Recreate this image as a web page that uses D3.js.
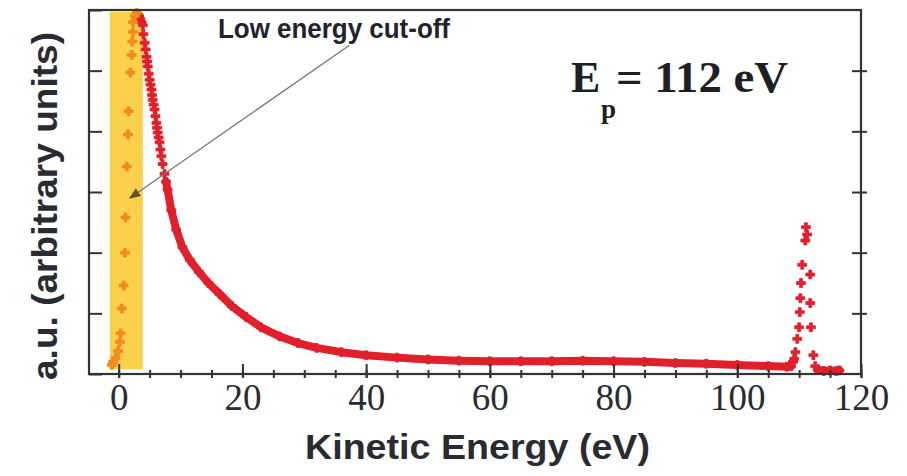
<!DOCTYPE html>
<html>
<head>
<meta charset="utf-8">
<script src="https://cdn.jsdelivr.net/npm/d3@7"></script>
<style>
  html, body { margin: 0; padding: 0; background: #fff; }
  svg { display: block; }
</style>
</head>
<body>
<svg id="chart" width="907" height="476"></svg>
<script>
// values
const redE = [3.1, 3.3, 3.5, 3.7, 3.9, 4.0, 4.2, 4.35, 4.5, 4.6, 4.7, 4.85, 5.0, 5.15, 5.3, 5.4, 5.5, 5.65, 5.8, 5.95, 6.1, 6.2, 6.3, 6.45, 6.6, 6.75, 6.9, 7.1, 7.4, 7.65, 7.9, 8.5, 9.3, 10.3, 11.5, 13, 14.5, 16.3, 18.3, 20.6, 23, 26, 29, 32, 36, 40, 45, 50, 55, 60, 65, 70, 75, 80, 85, 90, 95, 100, 105, 108, 108.7,
  109.0, 109.2, 109.4, 109.7, 110.0, 110.1, 110.2, 110.3, 110.5, 111.0, 111.1, 111.3, 111.8, 111.8, 111.9, 112.3, 112.6,
  113, 114, 115, 116, 116.5];
const redY = [5.92, 5.9, 5.85, 5.8, 5.75, 5.6, 5.46, 5.35, 5.23, 5.15, 5.07, 4.95, 4.85, 4.77, 4.69, 4.6, 4.52, 4.44, 4.36, 4.25, 4.14, 4.06, 3.98, 3.9, 3.82, 3.7, 3.59, 3.46, 3.30, 3.17, 3.04, 2.70, 2.38, 2.09, 1.88, 1.68, 1.50, 1.32, 1.12, 0.94, 0.77, 0.62, 0.51, 0.43, 0.36, 0.31, 0.27, 0.24, 0.22, 0.21, 0.21, 0.21, 0.22, 0.21, 0.20, 0.18, 0.17, 0.15, 0.13, 0.12, 0.13,
  0.20, 0.25, 0.36, 0.58, 0.77, 1.02, 1.25, 1.50, 1.80, 2.20, 2.42, 2.30, 1.64, 1.17, 0.77, 0.31, 0.13,
  0.07, 0.05, 0.06, 0.05, 0.06];

const orangeE = [-1.1, -0.9, -0.5, -0.1, 0.2, 0.3, 0.5, 0.8, 1.0, 1.1, 1.3, 1.5, 1.6, 1.9, 2.1, 2.2, 2.3, 2.3, 2.6, 2.9];
const orangeY = [0.15, 0.20, 0.26, 0.38, 0.53, 0.67, 1.08, 1.46, 2.00, 2.58, 3.42, 3.95, 4.33, 4.97, 5.26, 5.48, 5.64, 5.80, 5.90, 5.95];

const cutoffBand = [-1.45, 3.9];        // shaded low-energy window (eV)
const xMajor = [0, 20, 40, 60, 80, 100, 120];
const xMinor = d3.range(0, 121, 5);
const yTicks = [0, 1, 2, 3, 4, 5, 6];

const svg = d3.select("#chart");
const m = { left: 89, right: 861, top: 10, bottom: 374 };

const x = d3.scaleLinear().domain([-4.8, 120]).range([m.left, m.right]);
const y = d3.scaleLinear().domain([0, 6]).range([m.bottom, m.top]);

const red = redE.map((e, i) => [e, redY[i]]);
const orange = orangeE.map((e, i) => [e, orangeY[i]]);

// yellow cut-off band
svg.append("rect")
  .attr("x", x(cutoffBand[0]))
  .attr("y", y(5.97))
  .attr("width", x(cutoffBand[1]) - x(cutoffBand[0]))
  .attr("height", y(0.08) - y(5.97))
  .attr("fill", "#fbd14b");

// dense part of the spectrum drawn as a thick band
const band = d3.line()
  .defined(d => (d[0] >= 7.6 && d[0] < 109) || d[0] > 112.7)
  .x(d => x(d[0]))
  .y(d => y(d[1]));

svg.append("path")
  .datum(red)
  .attr("fill", "none")
  .attr("stroke", "#e0202b")
  .attr("stroke-width", 8)
  .attr("stroke-linejoin", "round")
  .attr("stroke-linecap", "round")
  .attr("d", band);

const marker = d3.symbol().type(d3.symbolCross).size(44);

svg.append("g").selectAll("path")
  .data(red)
  .join("path")
  .attr("transform", d => `translate(${x(d[0])},${y(d[1])})`)
  .attr("d", marker)
  .attr("fill", "#e0202b")
  .attr("stroke", "#e0202b")
  .attr("stroke-width", 0.8);

svg.append("g").selectAll("path")
  .data(orange)
  .join("path")
  .attr("transform", d => `translate(${x(d[0])},${y(d[1])})`)
  .attr("d", marker)
  .attr("fill", "#f28a1e")
  .attr("stroke", "#f28a1e")
  .attr("stroke-width", 0.8);

// frame
svg.append("rect")
  .attr("x", m.left).attr("y", m.top)
  .attr("width", m.right - m.left).attr("height", m.bottom - m.top)
  .attr("fill", "none")
  .attr("stroke", "#333")
  .attr("stroke-width", 2.2);

// x axis: minor ticks
const xMin = svg.append("g")
  .attr("transform", `translate(0,${m.bottom})`)
  .call(d3.axisBottom(x).tickValues(xMinor).tickSize(0).tickFormat(""));
xMin.select(".domain").remove();
xMin.selectAll(".tick line").attr("y1", -4).attr("y2", 4).attr("stroke", "#333").attr("stroke-width", 2);

// x axis: major ticks + labels
const xMaj = svg.append("g")
  .attr("transform", `translate(0,${m.bottom})`)
  .call(d3.axisBottom(x).tickValues(xMajor).tickSize(0).tickPadding(0));
xMaj.select(".domain").remove();
xMaj.selectAll(".tick line").attr("y1", -10).attr("y2", 4).attr("stroke", "#333").attr("stroke-width", 2);
xMaj.selectAll(".tick text")
  .attr("y", 36)
  .attr("dy", null)
  .attr("fill", "#2a2a33")
  .attr("font-family", "'Liberation Serif', serif")
  .attr("font-size", 37);

// y axis ticks, inward on the left
const yL = svg.append("g")
  .attr("transform", `translate(${m.left},0)`)
  .call(d3.axisLeft(y).tickValues(yTicks).tickSize(0).tickFormat(""));
yL.select(".domain").remove();
yL.selectAll(".tick line").attr("x1", 0).attr("x2", 13).attr("stroke", "#333").attr("stroke-width", 2);

// right side ticks crossing the frame
const yR = svg.append("g")
  .attr("transform", `translate(${m.right},0)`)
  .call(d3.axisRight(y).tickValues(yTicks.slice(1, 6)).tickSize(0).tickFormat(""));
yR.select(".domain").remove();
yR.selectAll(".tick line").attr("x1", -9).attr("x2", 6).attr("stroke", "#333").attr("stroke-width", 2);

// axis titles
svg.append("text")
  .attr("x", 305).attr("y", 459)
  .attr("textLength", 345).attr("lengthAdjust", "spacingAndGlyphs")
  .attr("font-family", "'Liberation Sans', Arial, sans-serif")
  .attr("font-weight", "bold")
  .attr("font-size", 35)
  .attr("fill", "#2a2a33")
  .text("Kinetic Energy (eV)");

svg.append("text")
  .attr("transform", "translate(57,380) rotate(-90)")
  .attr("textLength", 348).attr("lengthAdjust", "spacingAndGlyphs")
  .attr("font-family", "'Liberation Sans', Arial, sans-serif")
  .attr("font-weight", "bold")
  .attr("font-size", 35)
  .attr("fill", "#2a2a33")
  .text("a.u. (arbitrary units)");

// annotation
svg.append("defs").append("marker")
  .attr("id", "head")
  .attr("viewBox", "0 0 10 10")
  .attr("refX", 9).attr("refY", 5)
  .attr("markerWidth", 9).attr("markerHeight", 9)
  .attr("orient", "auto")
  .append("path")
  .attr("d", "M0,1 L10,5 L0,9 Z")
  .attr("fill", "#5e5530");

svg.append("line")
  .attr("x1", x(37.3)).attr("y1", y(5.42))
  .attr("x2", x(1.8)).attr("y2", y(2.9))
  .attr("stroke", "#777")
  .attr("stroke-width", 1.3)
  .attr("marker-end", "url(#head)");

svg.append("text")
  .attr("x", 218).attr("y", 38)
  .attr("textLength", 232).attr("lengthAdjust", "spacingAndGlyphs")
  .attr("font-family", "'Liberation Sans', Arial, sans-serif")
  .attr("font-weight", "bold")
  .attr("font-size", 27)
  .attr("fill", "#22222e")
  .text("Low energy cut-off");

const ep = svg.append("g")
  .attr("font-family", "'Liberation Serif', serif")
  .attr("font-weight", "bold")
  .attr("fill", "#1e1e24");
ep.append("text").attr("x", 571).attr("y", 92).attr("font-size", 44).text("E");
ep.append("text").attr("x", 601).attr("y", 118).attr("font-size", 27).text("p");
ep.append("text").attr("x", 616).attr("y", 92).attr("font-size", 44)
  .attr("textLength", 172).attr("lengthAdjust", "spacingAndGlyphs")
  .text("= 112 eV");
</script>
</body>
</html>
